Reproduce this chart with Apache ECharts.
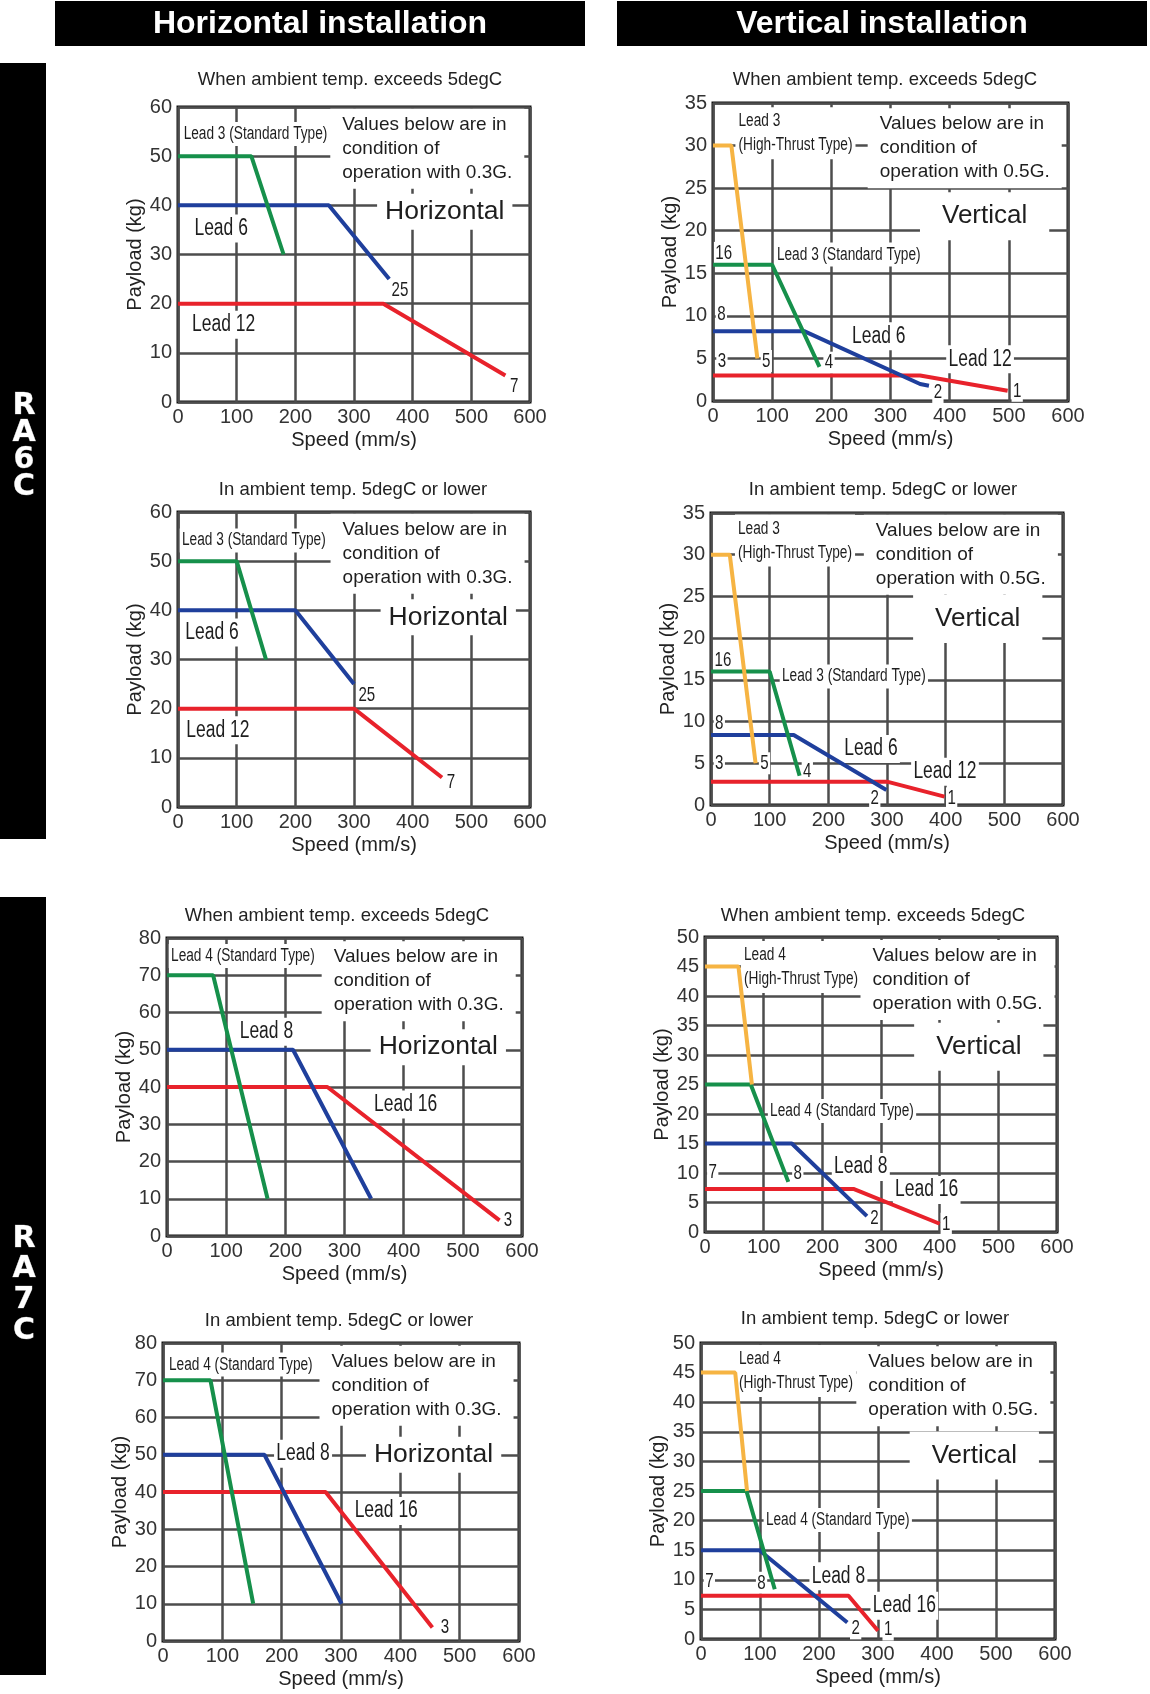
<!DOCTYPE html>
<html><head><meta charset="utf-8">
<script src="https://cdn.jsdelivr.net/npm/echarts@6/dist/echarts.min.js"></script>
<style>html,body{margin:0;padding:0;background:#fff}#c{width:1150px;height:1694px}</style>
</head><body><div id="c"></div>
<script>
// ---------- DATA (speed mm/s, payload kg) ----------
// RA6C, ambient > 5degC, horizontal
const ra6cHotH_lead3  = [[0,50],[125,50],[180,30]];
const ra6cHotH_lead6  = [[0,40],[257,40],[360,25]];
const ra6cHotH_lead12 = [[0,20],[350,20],[558,5.4]];
// RA6C, ambient > 5degC, vertical
const ra6cHotV_lead3HT = [[0,30],[31,30],[75,5]];
const ra6cHotV_lead3   = [[0,16],[100,16],[180,4]];
const ra6cHotV_lead6   = [[0,8.2],[154,8.2],[350,2],[365,1.8]];
const ra6cHotV_lead12  = [[0,3],[350,3],[498,1.2]];
// RA6C, ambient <= 5degC, horizontal
const ra6cColdH_lead3  = [[0,50],[100,50],[150,30]];
const ra6cColdH_lead6  = [[0,40],[200,40],[300,25]];
const ra6cColdH_lead12 = [[0,20],[300,20],[450,6]];
// RA6C, ambient <= 5degC, vertical
const ra6cColdV_lead3HT = [[0,30],[32,30],[76,5]];
const ra6cColdV_lead3   = [[0,16],[100,16],[151,3.5]];
const ra6cColdV_lead6   = [[0,8.4],[141,8.4],[299,1.8]];
const ra6cColdV_lead12  = [[0,2.8],[300,2.8],[398,1]];
// RA7C, ambient > 5degC, horizontal
const ra7cHotH_lead4  = [[0,70],[78,70],[170,10]];
const ra7cHotH_lead8  = [[0,50],[213,50],[345,10]];
const ra7cHotH_lead16 = [[0,40],[271,40],[562,4.2]];
// RA7C, ambient > 5degC, vertical
const ra7cHotV_lead4HT = [[0,45],[57,45],[80,25]];
const ra7cHotV_lead4   = [[0,25],[78,25],[142,8.5]];
const ra7cHotV_lead8   = [[0,15],[148,15],[276,2.7]];
const ra7cHotV_lead16  = [[0,7.3],[253,7.3],[400,1.4]];
// RA7C, ambient <= 5degC, horizontal
const ra7cColdH_lead4  = [[0,70],[80,70],[152,10]];
const ra7cColdH_lead8  = [[0,50],[171,50],[301,10]];
const ra7cColdH_lead16 = [[0,40],[274,40],[454,3.6]];
// RA7C, ambient <= 5degC, vertical
const ra7cColdV_lead4HT = [[0,45],[58,45],[78,25]];
const ra7cColdV_lead4   = [[0,25],[77,25],[125,8.4]];
const ra7cColdV_lead8   = [[0,15],[99,15],[248,2.8]];
const ra7cColdV_lead16  = [[0,7.3],[250,7.3],[300,1.4]];

const speedRange = [0, 600];
const titleHot  = 'When ambient temp. exceeds 5degC';
const titleCold = 'In ambient temp. 5degC or lower';
const note03 = 'Values below are in\ncondition of\noperation with 0.3G.';
const note05 = 'Values below are in\ncondition of\noperation with 0.5G.';

// ---------- STYLE ----------
const SANS = "'Liberation Sans',Arial,Helvetica,sans-serif";
const C = {green:'#16904b', blue:'#1f3f9c', red:'#e8222b', orange:'#f6b443'};
const KINDS = {
  small:{fs:18,   lh:22, sx:0.76, pad:[1,3,1,3]},
  ht:   {fs:18,   lh:24, sx:0.76, pad:[2,4,2,4]},
  num:  {fs:21,   lh:22, sx:0.72, pad:[0,2,0,2]},
  lead: {fs:23,   lh:26, sx:0.76, pad:[1,3,1,3]},
  note: {fs:19,   lh:24, sx:1,    pad:[4,12,4,12]},
  horiz:{fs:26.5, lh:30, sx:1,    pad:[3,8,3,8]},
  vert: {fs:26,   lh:30, sx:1,    pad:[9,22,9,22]}
};

const panels = [
  {left:178, top:107, w:352, h:295, ymax:60, yint:10, title:titleHot, tx:350, ty:80,
   lines:[[ra6cHotH_lead12,C.red],[ra6cHotH_lead6,C.blue],[ra6cHotH_lead3,C.green]],
   notes:[['Lead 3 (Standard Type)',9.6,54.5,'small'],[note03,280,51.5,'note'],['Horizontal',353,38.7,'horiz'],
          ['Lead 6',28,35.3,'lead'],['Lead 12',24,15.7,'lead'],['25',364,22.8,'num'],['7',566,3.2,'num']]},
  {left:713, top:103, w:355, h:298, ymax:35, yint:5, title:titleHot, tx:885, ty:80,
   lines:[[ra6cHotV_lead12,C.red],[ra6cHotV_lead6,C.blue],[ra6cHotV_lead3,C.green],[ra6cHotV_lead3HT,C.orange]],
   notes:[['Lead 3\n(High-Thrust Type)',43,31.45,'ht'],[note05,281.7,29.7,'note'],['Vertical',387,21.7,'vert'],
          ['16',4,17.4,'num'],['Lead 3 (Standard Type)',108,17.2,'small'],['8',7,10.2,'num'],['Lead 6',235,7.6,'lead'],
          ['3',8,4.7,'num'],['5',83,4.7,'num'],['4',189,4.5,'num'],['Lead 12',398,4.9,'lead'],['2',373,1.0,'num'],['1',507,1.2,'num']]},
  {left:178, top:512, w:352, h:295, ymax:60, yint:10, title:titleCold, tx:353, ty:490,
   lines:[[ra6cColdH_lead12,C.red],[ra6cColdH_lead6,C.blue],[ra6cColdH_lead3,C.green]],
   notes:[['Lead 3 (Standard Type)',6.8,54.2,'small'],[note03,280.5,51.5,'note'],['Horizontal',359,38.6,'horiz'],
          ['Lead 6',12.5,35.5,'lead'],['Lead 12',14,15.6,'lead'],['25',307.6,22.7,'num'],['7',458,5.1,'num']]},
  {left:711, top:513, w:352, h:292, ymax:35, yint:5, title:titleCold, tx:883, ty:490,
   lines:[[ra6cColdV_lead12,C.red],[ra6cColdV_lead6,C.blue],[ra6cColdV_lead3,C.green],[ra6cColdV_lead3HT,C.orange]],
   notes:[['Lead 3\n(High-Thrust Type)',46,31.7,'ht'],[note05,281,30.0,'note'],['Vertical',382,22.3,'vert'],
          ['16',6,17.4,'num'],['Lead 3 (Standard Type)',121,15.4,'small'],['8',7,9.8,'num'],['Lead 6',227,6.7,'lead'],
          ['3',7,5.0,'num'],['5',84,5.0,'num'],['4',157,4.0,'num'],['Lead 12',345,4.0,'lead'],['2',272,0.8,'num'],['1',403,0.8,'num']]},
  {left:167, top:938, w:355, h:298, ymax:80, yint:10, title:titleHot, tx:337, ty:916,
   lines:[[ra7cHotH_lead16,C.red],[ra7cHotH_lead8,C.blue],[ra7cHotH_lead4,C.green]],
   notes:[['Lead 4 (Standard Type)',6.8,75.2,'small'],[note03,281.7,68.4,'note'],['Lead 8',122.8,54.8,'lead'],
          ['Horizontal',357.7,50.7,'horiz'],['Lead 16',350,35.3,'lead'],['3',569,4.2,'num']]},
  {left:705, top:937, w:352, h:295, ymax:50, yint:5, title:titleHot, tx:873, ty:916,
   lines:[[ra7cHotV_lead16,C.red],[ra7cHotV_lead8,C.blue],[ra7cHotV_lead4,C.green],[ra7cHotV_lead4HT,C.orange]],
   notes:[['Lead 4\n(High-Thrust Type)',66.5,44.9,'ht'],[note05,285.5,42.7,'note'],['Vertical',394,31.4,'vert'],
          ['Lead 4 (Standard Type)',111,20.5,'small'],['7',6,10.2,'num'],['8',151,9.9,'num'],['Lead 8',220,11,'lead'],
          ['Lead 16',324,7.1,'lead'],['2',281.6,2.3,'num'],['1',404,1.4,'num']]},
  {left:163, top:1343, w:356, h:298, ymax:80, yint:10, title:titleCold, tx:339, ty:1321,
   lines:[[ra7cColdH_lead16,C.red],[ra7cColdH_lead8,C.blue],[ra7cColdH_lead4,C.green]],
   notes:[['Lead 4 (Standard Type)',10,74.2,'small'],[note03,284,68.5,'note'],['Lead 8',191,50.3,'lead'],
          ['Horizontal',355.5,50,'horiz'],['Lead 16',323,34.9,'lead'],['3',468,3.6,'num']]},
  {left:701, top:1343, w:354, h:296, ymax:50, yint:5, title:titleCold, tx:875, ty:1319,
   lines:[[ra7cColdV_lead16,C.red],[ra7cColdV_lead8,C.blue],[ra7cColdV_lead4,C.green],[ra7cColdV_lead4HT,C.orange]],
   notes:[['Lead 4\n(High-Thrust Type)',64.4,45.25,'ht'],[note05,283.6,42.7,'note'],['Vertical',391,31,'vert'],
          ['Lead 4 (Standard Type)',110,20.1,'small'],['7',7,9.7,'num'],['8',95.5,9.5,'num'],['Lead 8',187.6,10.6,'lead'],
          ['Lead 16',291,5.6,'lead'],['2',255,1.8,'num'],['1',310,1.6,'num']]}
];

const option = {animation:false, grid:[], xAxis:[], yAxis:[], series:[], graphic:[]};
panels.forEach((p,i)=>{
  option.grid.push({left:p.left, top:p.top, width:p.w, height:p.h, show:true, borderColor:'#111', borderWidth:3,
    backgroundColor:'#fff', containLabel:false, outerBoundsMode:'none'});
  option.xAxis.push({type:'value', gridIndex:i, min:speedRange[0], max:speedRange[1], interval:100,
    name:'Speed (mm/s)', nameLocation:'middle', nameGap:28,
    nameTextStyle:{fontFamily:SANS, fontSize:20, color:'#222'},
    axisLine:{show:false}, axisTick:{show:false},
    axisLabel:{fontFamily:SANS, fontSize:20, color:'#333', margin:5},
    splitLine:{show:true, lineStyle:{color:'#4d4d4d', width:2.5}}});
  option.yAxis.push({type:'value', gridIndex:i, min:0, max:p.ymax, interval:p.yint,
    name:'Payload (kg)', nameLocation:'middle', nameGap:31,
    nameTextStyle:{fontFamily:SANS, fontSize:20, color:'#222'},
    axisLine:{show:false}, axisTick:{show:false},
    axisLabel:{fontFamily:SANS, fontSize:20, color:'#333', margin:6},
    splitLine:{show:true, lineStyle:{color:'#4d4d4d', width:2.5}}});
  p.lines.forEach(([data,color])=>{
    option.series.push({type:'line', xAxisIndex:i, yAxisIndex:i, data:data, symbol:'none', silent:true, z:5,
      lineStyle:{color:color, width:4}, itemStyle:{color:color}, emphasis:{disabled:true}});
  });
  option.graphic.push({type:'text', x:p.tx, y:p.ty, silent:true,
    style:{text:p.title, font:"18.5px "+SANS, fill:'#222', align:'center', verticalAlign:'middle', textAlign:'center', textVerticalAlign:'middle'}});
});

// headers
[[55,'Horizontal installation'],[617,'Vertical installation']].forEach(([x,t])=>{
  option.graphic.push({type:'rect', shape:{x:x, y:1, width:530, height:45}, style:{fill:'#000'}, silent:true});
  option.graphic.push({type:'text', x:x+265, y:24, silent:true,
    style:{text:t, font:"bold 32px "+SANS, fill:'#fff', align:'center', verticalAlign:'middle', textAlign:'center', textVerticalAlign:'middle'}});
});
// side bars
[[63,839,'RA6C',[406,433,460,487]],[897,1675,'RA7C',[1239,1269,1300,1331]]].forEach(([y0,y1,t,ys])=>{
  option.graphic.push({type:'rect', shape:{x:0, y:y0, width:46, height:y1-y0}, style:{fill:'#000'}, silent:true});
  t.split('').forEach((ch,j)=>{
    option.graphic.push({type:'text', x:24, y:ys[j], silent:true,
      style:{text:ch, font:"bold 30px 'DejaVu Sans',sans-serif", fill:'#fff', stroke:'#888', lineWidth:0.6,
        align:'center', verticalAlign:'middle', textAlign:'center', textVerticalAlign:'middle'}});
  });
});

const chart = echarts.init(document.getElementById('c'), null, {renderer:'canvas', width:1150, height:1694});
chart.setOption(option);

// annotations placed through each grid's own scales
const annots = [];
panels.forEach((p,i)=>{
  p.notes.forEach(n=>{
    const k = KINDS[n[3]];
    const pt = chart.convertToPixel({gridIndex:i}, [n[1], n[2]]);
    annots.push({type:'text', x:pt[0] - k.pad[3]*k.sx, y:pt[1], scaleX:k.sx, scaleY:1, z:3, silent:true,
      style:{text:n[0], font:k.fs+"px "+SANS, lineHeight:k.lh, fill:'#1e1e1e',
        backgroundColor:'#ffffff', padding:k.pad, align:'left', verticalAlign:'middle',
        textAlign:'left', textVerticalAlign:'middle'}});
  });
});
chart.setOption({graphic: option.graphic.concat(annots)});
</script></body></html>
